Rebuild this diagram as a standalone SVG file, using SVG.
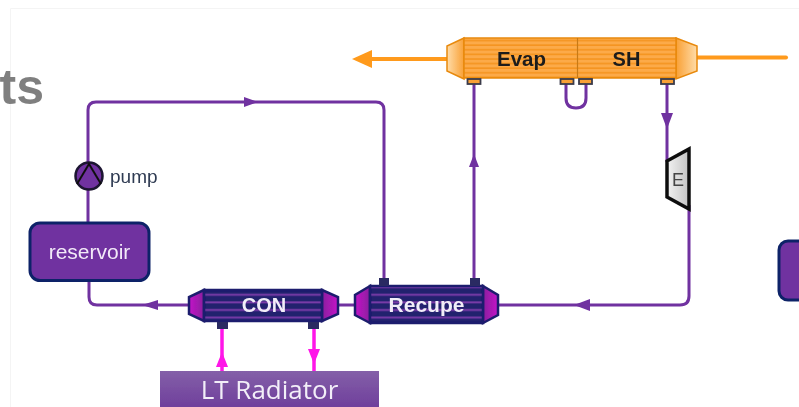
<svg xmlns="http://www.w3.org/2000/svg" width="799" height="407" viewBox="0 0 799 407">
<style>
.pipe{fill:none;stroke:#7030a0;stroke-width:3}
.hot{fill:none;stroke:#ff9a1a;stroke-width:4}
.cold{fill:none;stroke:#ff14e8;stroke-width:3.5}
.t{font-family:"Liberation Sans",Arial,sans-serif;text-anchor:middle}
.hxd{stroke:#1f1f6e;stroke-width:2.5}
.hxo{stroke:#e8890c;stroke-width:1.5}
</style>
<defs>
<filter id="soft" x="0" y="0" width="100%" height="100%" filterUnits="objectBoundingBox"><feGaussianBlur stdDeviation="0.45"/></filter>
<pattern id="dark" width="10" height="7.6" patternUnits="userSpaceOnUse"><rect width="10" height="7.6" fill="#20206e"/><rect y="5" width="10" height="2" fill="#7a3aa8"/></pattern>
<pattern id="org" width="10" height="4.6" patternUnits="userSpaceOnUse"><rect width="10" height="4.6" fill="#fcaa48"/><rect y="3" width="10" height="1.6" fill="#f59420"/></pattern>
<linearGradient id="capo" x1="0" x2="1"><stop offset="0" stop-color="#ffdca8"/><stop offset="1" stop-color="#f9a035"/></linearGradient>
<linearGradient id="capo2" x1="0" x2="1"><stop offset="0" stop-color="#f9a035"/><stop offset="1" stop-color="#ffdca8"/></linearGradient>
<linearGradient id="capm" x1="0" x2="1"><stop offset="0" stop-color="#c414c8"/><stop offset="1" stop-color="#8a1f9e"/></linearGradient>
<linearGradient id="capm2" x1="0" x2="1"><stop offset="0" stop-color="#8a1f9e"/><stop offset="1" stop-color="#c414c8"/></linearGradient>
<linearGradient id="rad" x1="0" x2="0" y1="0" y2="1"><stop offset="0" stop-color="#8460a8"/><stop offset="1" stop-color="#6f3f9c"/></linearGradient>
<linearGradient id="turb" x1="0" x2="1"><stop offset="0" stop-color="#f2f2f2"/><stop offset="1" stop-color="#c4c4c4"/></linearGradient>
</defs>
<rect width="799" height="407" fill="#fff"/>
<g filter="url(#soft)">
<rect width="799" height="407" fill="#fff"/>
<path d="M10.500 407V8.500H799" fill="none" stroke="#f4f4f4"/>
<text class="t" id="title" x="44" y="104" font-size="50" font-weight="700" fill="#7f7f7f" style="text-anchor:end">ts</text>

<g id="connectors">
<path class="pipe" d="M384 279V110Q384 102 376 102H96Q88 102 88 110V223"/>
<path class="pipe" d="M89 281V297Q89 305 97 305H190"/>
<path class="pipe" d="M338 305H356"/>
<path class="pipe" d="M474 84V280"/>
<path class="pipe" d="M566 84V98Q566 108 576 108Q586 108 586 98V84"/>
<path class="pipe" d="M667 84V162"/>
<path class="pipe" d="M689 205V296Q689 305 680 305H498"/>
<path d="M244 97L258 102L244 107Z" fill="#7030a0"/>
<path d="M142 305L158 300V310Z" fill="#7030a0"/>
<path d="M469 167L474 154L479 167Z" fill="#7030a0"/>
<path d="M661 113H673L667 129Z" fill="#7030a0"/>
<path d="M574 305L590 299V311Z" fill="#7030a0"/>
<path class="hot" d="M447 59H368"/>
<path d="M352 59L372 50V68Z" fill="#ff9a1a"/>
<path class="hot" d="M697 57.500H786" stroke-linecap="round"/>
<path class="cold" d="M222 329V372"/>
<path class="cold" d="M314 329V372"/>
<path d="M216 367L222 352L228 367Z" fill="#ff14e8"/>
<path d="M308 349H320L314 364Z" fill="#ff14e8"/>
</g>

<g id="evap-sh">
<path class="hxo" d="M464 38L447 46V71L464 79Z" fill="url(#capo)"/>
<path class="hxo" d="M676 38L697 46V71L676 79Z" fill="url(#capo2)"/>
<rect class="hxo" x="464" y="38" width="212" height="40" fill="url(#org)"/>
<path d="M577.500 38V78" stroke="#c87a18" stroke-width="1.200"/>
<g fill="#f9a035" stroke="#3b3b4a" stroke-width="1.800">
<rect x="467.500" y="79" width="13" height="5"/><rect x="560.500" y="79" width="13" height="5"/><rect x="579" y="79" width="13" height="5"/><rect x="661" y="79" width="13" height="5"/>
</g>
<text class="t" x="521.500" y="65.500" font-size="20.500" font-weight="700" fill="#1c1c1c">Evap</text>
<text class="t" x="626.500" y="65.500" font-size="20" font-weight="700" fill="#1c1c1c">SH</text>
</g>

<g id="turbine">
<path d="M667 161L689 149V209L667 197Z" fill="url(#turb)" stroke="#111" stroke-width="3.500"/>
<text class="t" x="678" y="186" font-size="18" fill="#444">E</text>
</g>

<g id="pump">
<circle cx="89" cy="176" r="13.500" fill="#7030a0" stroke="#1d1530" stroke-width="2.500"/>
<path d="M77 184L89 164L101 184" fill="none" stroke="#111" stroke-width="2"/>
<text x="110" y="183" font-size="19" fill="#2f3b52" font-family="'Liberation Sans',Arial,sans-serif">pump</text>
</g>

<g id="reservoir">
<rect x="30" y="223" width="119" height="57.500" rx="10" fill="#7030a0" stroke="#0f2468" stroke-width="3"/>
<text class="t" x="89.500" y="259" font-size="21" fill="#f2eaf8">reservoir</text>
</g>

<g id="con">
<path class="hxd" d="M204 290L189 297V314L204 321Z" fill="url(#capm)"/>
<path class="hxd" d="M322 290L338 297V314L322 321Z" fill="url(#capm2)"/>
<rect class="hxd" x="204" y="290" width="118" height="31" fill="url(#dark)"/>
<g fill="#2a2a62"><rect x="217" y="322" width="11" height="7"/><rect x="308" y="322" width="11" height="7"/></g>
<text class="t" x="264" y="312" font-size="20" font-weight="700" fill="#f2eef8">CON</text>
</g>

<g id="recupe">
<path class="hxd" d="M370 286L355 295V315L370 323Z" fill="url(#capm)"/>
<path class="hxd" d="M483 286L498 295V315L483 323Z" fill="url(#capm2)"/>
<rect class="hxd" x="370" y="286" width="113" height="37" fill="url(#dark)"/>
<g fill="#2a2a62"><rect x="379" y="278" width="10" height="8"/><rect x="470" y="278" width="10" height="8"/></g>
<text class="t" x="426.500" y="312" font-size="21" font-weight="700" fill="#f2eef8">Recupe</text>
</g>

<g id="lt-radiator">
<rect x="160" y="371" width="219" height="36" fill="url(#rad)"/>
<text class="t" x="269.500" y="399" font-size="26" fill="#f2eef8" style="font-family:'Open Sans','Liberation Sans',sans-serif">LT Radiator</text>
</g>

<g id="right-box">
<rect x="779" y="241" width="40" height="59" rx="9" fill="#7030a0" stroke="#0f2468" stroke-width="3"/>
</g>
</g>
</svg>
